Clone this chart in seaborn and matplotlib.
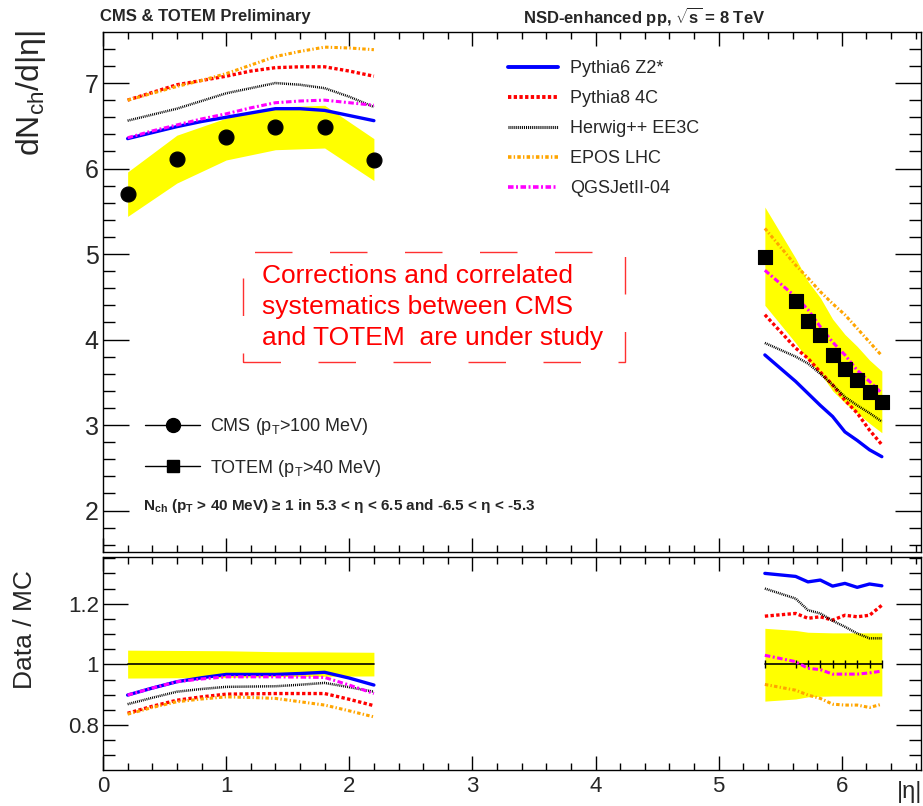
import numpy as np
import pandas as pd
import seaborn as sns
import matplotlib
matplotlib.use("Agg")
import matplotlib.pyplot as plt
from matplotlib import font_manager
from matplotlib.lines import Line2D
from matplotlib.patches import Rectangle
from matplotlib.ticker import MultipleLocator, FormatStrFormatter

# --- data ---
eta_cms = [0.2, 0.6, 1.0, 1.4, 1.8, 2.2]
cms = [5.70, 6.11, 6.37, 6.49, 6.49, 6.10]
cms_sys_hi = [5.96, 6.39, 6.59, 6.72, 6.74, 6.35]
cms_sys_lo = [5.44, 5.83, 6.10, 6.22, 6.24, 5.86]

eta_totem = [5.375, 5.625, 5.725, 5.825, 5.925, 6.025, 6.125, 6.225, 6.325]
totem = [4.97, 4.45, 4.22, 4.05, 3.82, 3.66, 3.53, 3.39, 3.27]
totem_sys_hi = [5.55, 4.95, 4.68, 4.49, 4.24, 4.06, 3.92, 3.76, 3.63]
totem_sys_lo = [4.40, 3.96, 3.76, 3.61, 3.40, 3.26, 3.14, 3.02, 2.91]

eta_mc = [0.2, 0.4, 0.6, 0.8, 1.0, 1.2, 1.4, 1.6, 1.8, 2.0, 2.2]
models = ["Pythia6 Z2*", "Pythia8 4C", "Herwig++ EE3C", "EPOS LHC", "QGSJetII-04"]

central = {
    "Pythia6 Z2*": [6.35, 6.42, 6.49, 6.55, 6.60, 6.65, 6.70, 6.70, 6.68, 6.62, 6.56],
    "Pythia8 4C": [6.80, 6.89, 6.98, 7.03, 7.08, 7.14, 7.18, 7.19, 7.19, 7.14, 7.08],
    "Herwig++ EE3C": [6.56, 6.63, 6.70, 6.79, 6.88, 6.94, 7.00, 6.98, 6.94, 6.84, 6.72],
    "EPOS LHC": [6.80, 6.88, 6.96, 7.03, 7.11, 7.21, 7.31, 7.37, 7.42, 7.41, 7.39],
    "QGSJetII-04": [6.36, 6.44, 6.51, 6.58, 6.64, 6.71, 6.77, 6.79, 6.80, 6.77, 6.74],
}
forward = {
    "Pythia6 Z2*": [3.82, 3.51, 3.37, 3.23, 3.10, 2.92, 2.82, 2.71, 2.63],
    "Pythia8 4C": [4.29, 3.90, 3.78, 3.62, 3.47, 3.29, 3.14, 2.94, 2.77],
    "Herwig++ EE3C": [3.96, 3.80, 3.72, 3.60, 3.47, 3.33, 3.23, 3.14, 3.04],
    "EPOS LHC": [5.30, 4.87, 4.72, 4.56, 4.42, 4.29, 4.13, 3.97, 3.81],
    "QGSJetII-04": [4.81, 4.50, 4.35, 4.15, 3.97, 3.82, 3.64, 3.51, 3.37],
}

ratio_central = {
    "Pythia6 Z2*": [0.899, 0.922, 0.943, 0.956, 0.967, 0.967, 0.967, 0.970, 0.974, 0.955, 0.932],
    "Pythia8 4C": [0.839, 0.862, 0.882, 0.893, 0.902, 0.903, 0.904, 0.904, 0.904, 0.885, 0.864],
    "Herwig++ EE3C": [0.869, 0.890, 0.910, 0.919, 0.926, 0.927, 0.928, 0.933, 0.939, 0.925, 0.910],
    "EPOS LHC": [0.836, 0.858, 0.877, 0.886, 0.893, 0.891, 0.888, 0.877, 0.866, 0.847, 0.827],
    "QGSJetII-04": [0.899, 0.922, 0.943, 0.952, 0.959, 0.959, 0.959, 0.958, 0.957, 0.932, 0.904],
}
ratio_forward = {
    "Pythia6 Z2*": [1.300, 1.290, 1.272, 1.278, 1.258, 1.267, 1.254, 1.265, 1.259],
    "Pythia8 4C": [1.159, 1.168, 1.152, 1.157, 1.146, 1.162, 1.157, 1.162, 1.195],
    "Herwig++ EE3C": [1.250, 1.217, 1.179, 1.168, 1.144, 1.124, 1.102, 1.086, 1.086],
    "EPOS LHC": [0.934, 0.915, 0.899, 0.888, 0.869, 0.866, 0.866, 0.858, 0.869],
    "QGSJetII-04": [1.030, 1.009, 0.987, 0.983, 0.968, 0.968, 0.968, 0.972, 0.978],
}
ratio_band_c_hi = [1.047, 1.046, 1.045, 1.042, 1.041, 1.040]
ratio_band_c_lo = [0.955, 0.956, 0.957, 0.960, 0.961, 0.962]
ratio_band_f_hi = [1.119, 1.112, 1.106, 1.105, 1.104, 1.104, 1.104, 1.104, 1.104]
ratio_band_f_lo = [0.879, 0.886, 0.893, 0.895, 0.896, 0.896, 0.896, 0.896, 0.896]

# --- styles ---
colors = {"Pythia6 Z2*": "#0000ff", "Pythia8 4C": "#ff0000", "Herwig++ EE3C": "#000000",
          "EPOS LHC": "#ffa500", "QGSJetII-04": "#ff00ff"}
styles = {"Pythia6 Z2*": "-", "Pythia8 4C": (0, (2.4, 1.7)), "Herwig++ EE3C": (0, (0.7, 0.7)),
          "EPOS LHC": (0, (2.5, 1.6, 1.0, 1.6)), "QGSJetII-04": (0, (4.0, 1.8, 1.4, 1.8))}
widths = {"Pythia6 Z2*": 2.4, "Pythia8 4C": 2.4, "Herwig++ EE3C": 1.8,
          "EPOS LHC": 2.2, "QGSJetII-04": 2.2}
yellow = "#ffff00"

sns.set_style("ticks")
names = {f.name for f in font_manager.fontManager.ttflist}
narrow = "Liberation Sans Narrow" if "Liberation Sans Narrow" in names else "Liberation Sans"
plt.rcParams["font.family"] = [narrow, "Liberation Sans", "DejaVu Sans"]
plt.rcParams["mathtext.fontset"] = "custom"
plt.rcParams["mathtext.rm"] = narrow
plt.rcParams["mathtext.it"] = narrow + ":italic"
plt.rcParams["mathtext.bf"] = narrow + ":bold"
plt.rcParams["lines.scale_dashes"] = False

fig = plt.figure(figsize=(9.23, 8.06), dpi=100)
W, H = 923, 806
ax1 = fig.add_axes([103 / W, 1 - 552 / H, 818 / W, 520 / H])
ax2 = fig.add_axes([103 / W, 1 - 770 / H, 818 / W, 213 / H])

# --- top panel ---
ax1.fill_between(eta_cms, cms_sys_lo, cms_sys_hi, color=yellow, lw=0, zorder=1)
ax1.fill_between(eta_totem, totem_sys_lo, totem_sys_hi, color=yellow, lw=0, zorder=1)
for m in models:
    for xs, ys in [(eta_mc, central[m]), (eta_totem, forward[m])]:
        sns.lineplot(x=xs, y=ys, ax=ax1, color=colors[m], linestyle=styles[m],
                     lw=widths[m], errorbar=None, sort=False, zorder=3)
sns.scatterplot(x=eta_cms, y=cms, ax=ax1, marker="o", s=115, color="black",
                edgecolor="black", zorder=5)
sns.scatterplot(x=eta_totem, y=totem, ax=ax1, marker="s", s=100, color="black",
                edgecolor="black", zorder=5)

ax1.set_xlim(0, 6.643)
ax1.set_ylim(1.515, 7.597)
ax1.yaxis.set_major_locator(MultipleLocator(1))
ax1.yaxis.set_minor_locator(MultipleLocator(0.2))
ax1.xaxis.set_major_locator(MultipleLocator(1))
ax1.xaxis.set_minor_locator(MultipleLocator(0.2))
ax1.tick_params(axis="x", which="both", labelbottom=False)
ax1.tick_params(axis="y", labelsize=18, pad=3)

# model legend
handles = [Line2D([], [], color=colors[m], linestyle=styles[m], lw=widths[m] + 0.4) for m in models]
leg1 = ax1.legend(handles, models, loc="upper left", bbox_to_anchor=(508 / W, 1 - 60 / H),
                  bbox_transform=fig.transFigure, frameon=False, fontsize=13,
                  handlelength=2.77, handletextpad=0.66, labelspacing=0.72,
                  borderpad=0, borderaxespad=0)
ax1.add_artist(leg1)

# data legend
dhandles = [Line2D([], [], color="black", lw=1, marker="o", markersize=10),
            Line2D([], [], color="black", lw=1, marker="s", markersize=9)]
dlabels = [r"CMS (p$_\mathrm{T}$>100 MeV)", r"TOTEM (p$_\mathrm{T}$>40 MeV)"]
ax1.legend(dhandles, dlabels, loc="upper left", bbox_to_anchor=(145 / W, 1 - 416 / H),
           bbox_transform=fig.transFigure, frameon=False, fontsize=13,
           handlelength=3.05, handletextpad=0.55, labelspacing=1.15,
           borderpad=0, borderaxespad=0)

fig.text(143 / W, 1 - 506 / H,
         r"N$_{\mathbf{ch}}$ (p$_{\mathbf{T}}$ > 40 MeV) ≥ 1 in 5.3 < η < 6.5 and -6.5 < η < -5.3",
         fontsize=11, fontweight="bold", va="center", ha="left")

# red dashed note box
ax1.add_patch(Rectangle((0.171, 0.365), 0.467, 0.212, transform=ax1.transAxes, fill=False,
                        ec="#ff3030", lw=1.0, linestyle=(0, (27, 27)), zorder=6))
ax1.text(0.194, 0.553, "Corrections and correlated\nsystematics between CMS\nand TOTEM  are under study",
         transform=ax1.transAxes, color="#ff0000", fontsize=19, family="Liberation Sans",
         ha="left", va="top", linespacing=1.36)

# --- bottom panel ---
ax2.fill_between(eta_cms, ratio_band_c_lo, ratio_band_c_hi, color=yellow, lw=0, zorder=1)
ax2.fill_between(eta_totem, ratio_band_f_lo, ratio_band_f_hi, color=yellow, lw=0, zorder=1)
ax2.plot(eta_cms, np.ones(len(eta_cms)), color="black", lw=1.2, zorder=2)
ax2.plot(eta_totem, np.ones(len(eta_totem)), color="black", lw=1.2, marker="|",
         markersize=6, zorder=2)
for m in models:
    for xs, ys in [(eta_mc, ratio_central[m]), (eta_totem, ratio_forward[m])]:
        sns.lineplot(x=xs, y=ys, ax=ax2, color=colors[m], linestyle=styles[m],
                     lw=widths[m], errorbar=None, sort=False, zorder=3)

ax2.set_xlim(0, 6.643)
ax2.set_ylim(0.652, 1.354)
ax2.yaxis.set_major_locator(MultipleLocator(0.2))
ax2.yaxis.set_minor_locator(MultipleLocator(0.05))
ax2.yaxis.set_major_formatter(FormatStrFormatter("%g"))
ax2.xaxis.set_major_locator(MultipleLocator(1))
ax2.xaxis.set_minor_locator(MultipleLocator(0.2))
ax2.tick_params(axis="y", labelsize=16, pad=3)
ax2.tick_params(axis="x", labelsize=16, pad=4)

for ax, ylen in [(ax1, (19, 8.5)), (ax2, (18, 8.5))]:
    ax.tick_params(axis="both", which="both", direction="in", top=True, right=True,
                   width=1, color="black")
    ax.tick_params(axis="y", which="major", length=ylen[0])
    ax.tick_params(axis="y", which="minor", length=ylen[1])
    ax.tick_params(axis="x", which="major", length=10)
    ax.tick_params(axis="x", which="minor", length=5)
    for s in ax.spines.values():
        s.set_linewidth(1.0)
        s.set_color("black")
    ax.set_xlabel("")
    ax.set_ylabel("")

# --- titles and axis titles ---
fig.text(100 / W, 1 - 17 / H, "CMS & TOTEM Preliminary", fontsize=12, fontweight="bold",
         ha="left", va="center")
fig.text(765 / W, 1 - 17 / H, r"NSD-enhanced pp, $\sqrt{\mathbf{s}}$ = 8 TeV", fontsize=12,
         fontweight="bold", ha="right", va="center")
fig.text(31 / W, 1 - 30 / H, r"dN$_\mathrm{ch}$/d|η|", fontsize=23, rotation=90,
         ha="center", va="top")
fig.text(25 / W, 1 - 570 / H, "Data / MC", fontsize=19, rotation=90, ha="center", va="top")
fig.text(922 / W, 1 - 792 / H, "|η|", fontsize=17, ha="right", va="center")

fig.savefig("out.png", dpi=100)
